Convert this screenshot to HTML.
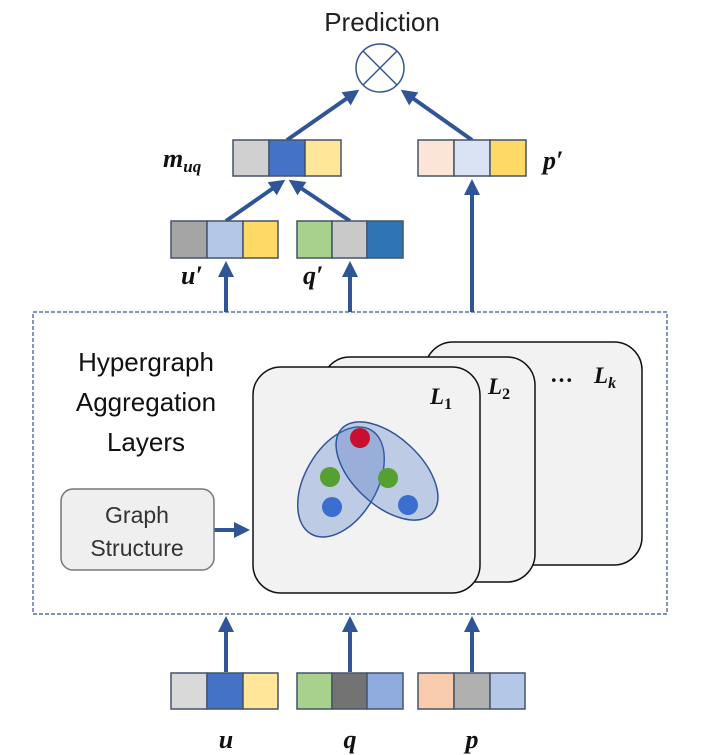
<!DOCTYPE html>
<html><head><meta charset="utf-8"><style>
html,body{margin:0;padding:0;background:#fff;}
svg{display:block;}
</style></head><body>
<svg width="720" height="755" viewBox="0 0 720 755" xmlns="http://www.w3.org/2000/svg" font-family="Liberation Sans, DejaVu Sans, sans-serif">
<defs>
<marker id="ah" markerWidth="4" markerHeight="4" refX="3" refY="2" orient="auto" markerUnits="strokeWidth">
<path d="M0,0 L4,2 L0,4 z" fill="#2f5597"/>
</marker>
</defs>
<text x="382" y="31" font-size="26" text-anchor="middle" fill="#222">Prediction</text>
<circle cx="380" cy="68" r="24" fill="#fff" stroke="#2f5597" stroke-width="1.5"/>
<line x1="363" y1="51" x2="397" y2="85" stroke="#2f5597" stroke-width="1.5"/>
<line x1="397" y1="51" x2="363" y2="85" stroke="#2f5597" stroke-width="1.5"/>
<g stroke="#2f5597" stroke-width="4" fill="none" marker-end="url(#ah)">
<line x1="287" y1="140" x2="356" y2="92"/>
<line x1="472" y1="140" x2="404" y2="92"/>
<line x1="226" y1="221" x2="282" y2="182"/>
<line x1="350" y1="221" x2="292" y2="182"/>
<line x1="226" y1="312" x2="226" y2="265"/>
<line x1="350" y1="312" x2="350" y2="265"/>
<line x1="472" y1="312" x2="472" y2="183"/>
<line x1="226" y1="672" x2="226" y2="620"/>
<line x1="350" y1="672" x2="350" y2="620"/>
<line x1="472" y1="672" x2="472" y2="620"/>
<line x1="214" y1="530" x2="246" y2="530"/>
</g>
<g stroke="#44546a" stroke-width="1.5">
<rect x="233" y="140" width="36" height="36" fill="#d0d0d0"/><rect x="269" y="140" width="36" height="36" fill="#4472c4"/><rect x="305" y="140" width="36" height="36" fill="#ffe699"/>
<rect x="418" y="140" width="36" height="36" fill="#fbe5d6"/><rect x="454" y="140" width="36" height="36" fill="#dae3f3"/><rect x="490" y="140" width="36" height="36" fill="#ffd966"/>
<rect x="171" y="221" width="36" height="37" fill="#a5a5a5"/><rect x="207" y="221" width="36" height="37" fill="#b4c7e7"/><rect x="243" y="221" width="35" height="37" fill="#ffd966"/>
<rect x="297" y="221" width="35" height="37" fill="#a9d18e"/><rect x="332" y="221" width="35" height="37" fill="#c9c9c9"/><rect x="367" y="221" width="36" height="37" fill="#2e75b6"/>
<rect x="171" y="673" width="36" height="36" fill="#d9d9d9"/><rect x="207" y="673" width="36" height="36" fill="#4472c4"/><rect x="243" y="673" width="35" height="36" fill="#ffe699"/>
<rect x="297" y="673" width="35" height="36" fill="#a9d18e"/><rect x="332" y="673" width="35" height="36" fill="#737373"/><rect x="367" y="673" width="36" height="36" fill="#8faadc"/>
<rect x="418" y="673" width="36" height="36" fill="#f8cbad"/><rect x="454" y="673" width="36" height="36" fill="#b0b0b0"/><rect x="490" y="673" width="35" height="36" fill="#b4c7e7"/>
</g>
<g font-family="Liberation Serif, DejaVu Serif, serif" font-weight="bold" font-style="italic" fill="#111">
<text x="163" y="167" font-size="26">m<tspan font-size="17" dy="5">uq</tspan></text>
<text x="543" y="169" font-size="26">p′</text>
<text x="181" y="284" font-size="26">u′</text>
<text x="303" y="284" font-size="26">q′</text>
<text x="226" y="748" font-size="26" text-anchor="middle">u</text>
<text x="350" y="748" font-size="26" text-anchor="middle">q</text>
<text x="472" y="748" font-size="26" text-anchor="middle">p</text>
</g>
<rect x="33" y="312" width="634" height="302" fill="none" stroke="#2f5597" stroke-width="1.2" stroke-dasharray="4,2"/>
<g font-size="26" fill="#111" text-anchor="middle">
<text x="146" y="371">Hypergraph</text>
<text x="146" y="411">Aggregation</text>
<text x="146" y="451">Layers</text>
</g>
<rect x="61" y="489" width="153" height="81" rx="12" fill="#efefef" stroke="#777" stroke-width="1.5"/>
<text x="137" y="523" font-size="23" text-anchor="middle" fill="#333">Graph</text>
<text x="137" y="556" font-size="23" text-anchor="middle" fill="#333">Structure</text>
<rect x="425" y="342" width="217" height="223" rx="28" fill="#f2f2f2" stroke="#111" stroke-width="1.5"/>
<rect x="322" y="357" width="213" height="225" rx="28" fill="#f2f2f2" stroke="#111" stroke-width="1.5"/>
<rect x="253" y="367" width="227" height="226" rx="28" fill="#f2f2f2" stroke="#111" stroke-width="1.5"/>
<g font-family="Liberation Serif, DejaVu Serif, serif" font-weight="bold" font-style="italic" fill="#111" font-size="23">
<text x="430" y="404">L<tspan font-size="16" dy="5" font-style="normal">1</tspan></text>
<text x="488" y="394">L<tspan font-size="16" dy="5" font-style="normal">2</tspan></text>
<text x="550" y="382" font-style="normal">…</text>
<text x="594" y="383">L<tspan font-size="16" dy="5">k</tspan></text>
</g>
<ellipse cx="341" cy="482" rx="36" ry="60" transform="rotate(30 341 482)" fill="#4472c4" fill-opacity="0.3" stroke="#2f5597" stroke-width="1.5"/>
<ellipse cx="387" cy="471" rx="34" ry="62" transform="rotate(-47 387 471)" fill="#4472c4" fill-opacity="0.3" stroke="#2f5597" stroke-width="1.5"/>
<circle cx="360" cy="438" r="10" fill="#c8102e"/>
<circle cx="330" cy="477" r="10" fill="#55a030"/>
<circle cx="388" cy="478" r="10" fill="#55a030"/>
<circle cx="332" cy="507" r="10" fill="#3a6fd0"/>
<circle cx="408" cy="505" r="10" fill="#3a6fd0"/>
</svg>
</body></html>
